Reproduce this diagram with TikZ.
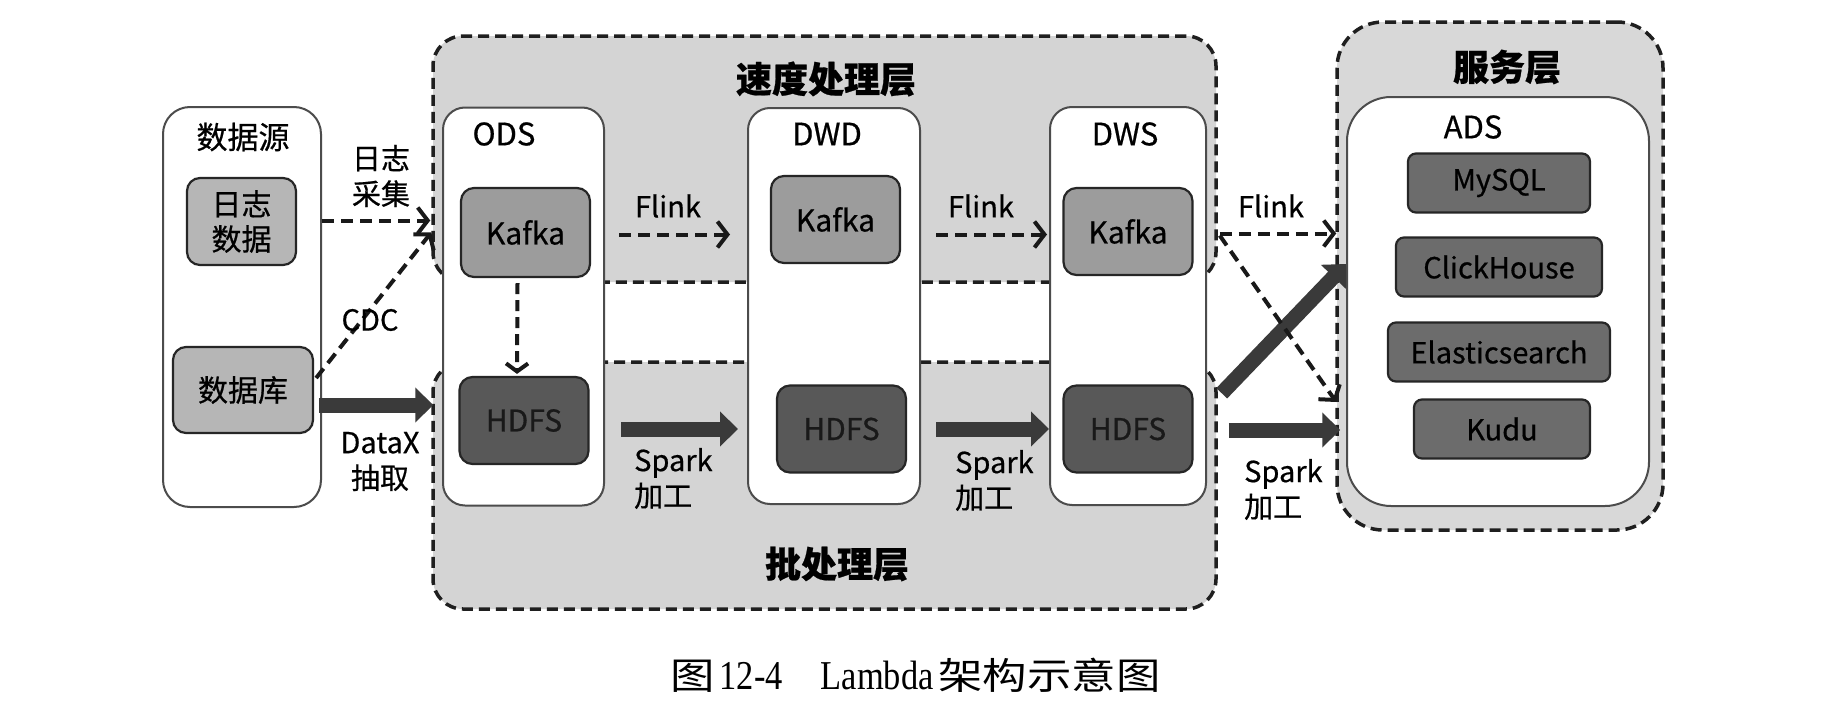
\documentclass[tikz,border=0pt]{standalone}
\usepackage{fontspec}
\setmainfont{Noto Sans CJK SC}[FakeBold=0.6]
\newfontfamily\capcjk{Noto Sans CJK SC}[FakeStretch=1.2]
\newfontfamily\capserif{Liberation Serif}[FakeStretch=0.84]
\usetikzlibrary{arrows.meta,calc}
\definecolor{regfill}{HTML}{D4D4D4}
\definecolor{srvfill}{HTML}{D8D8D8}
\definecolor{srcfill}{HTML}{B6B6B6}
\definecolor{kafkafill}{HTML}{9C9C9C}
\definecolor{hdfsfill}{HTML}{585858}
\definecolor{adsfill}{HTML}{6C6C6C}
\definecolor{arrowdark}{HTML}{3A3A3A}
\begin{document}
\begin{tikzpicture}[x=1pt,y=-1pt,
  region/.style={draw=black!88, line width=3.5pt, dash pattern=on 11pt off 6pt, fill=regfill, rounded corners=30pt, inner sep=0pt},
  colbox/.style={draw=black!70, line width=2pt, fill=white, rounded corners=22pt, inner sep=0pt},
  item/.style={draw=black!85, line width=2.2pt, rounded corners=13pt, inner sep=0pt, align=center, text=black, font=\fontsize{30}{35}\selectfont},
  srcitem/.style={item, fill=srcfill},
  kafkabox/.style={item, fill=kafkafill, minimum width=129pt, minimum height=87pt},
  hdfsbox/.style={item, fill=hdfsfill, minimum width=129pt, minimum height=87pt, text=black!90},
  adsitem/.style={item, fill=adsfill, rounded corners=8pt, minimum height=59pt, font=\fontsize{29}{35}\selectfont},
  coltitle/.style={inner sep=0pt, font=\fontsize{31}{35}\selectfont},
  lyrtitle/.style={inner sep=0pt, font=\fontsize{36}{40}\bfseries\selectfont},
  lbl/.style={inner sep=0pt, align=center, font=\fontsize{29}{35.5}\selectfont},
  lbll/.style={inner sep=0pt, align=left, anchor=west, font=\fontsize{29}{35.5}\selectfont},
  dasharrow/.style={draw=black!90, line width=4pt, dash pattern=on 12pt off 7pt, -{Straight Barb[length=10pt,width=26pt]}},
  thickarrow/.style={draw=arrowdark, line width=15pt, -{Triangle[length=18pt,width=34pt]}}
]
\fill[white] (0,0) rectangle (1842,704);
\useasboundingbox (0,0) rectangle (1842,704);

% layer regions
\node[region, minimum width=783pt, minimum height=246pt] (speed) at (824.5,159) {};
\node[region, minimum width=783pt, minimum height=247pt] (batch) at (824.5,485.5) {};
\node[region, fill=srvfill, rounded corners=46pt, minimum width=326pt, minimum height=508pt] (serv) at (1500,276) {};
\node[lyrtitle] (speedt) at (826,79) {速度处理层};
\node[lyrtitle] (batcht) at (837,564) {批处理层};
\node[lyrtitle] (servt) at (1507,67) {服务层};

% data source
\node[colbox, rounded corners=27pt, minimum width=158pt, minimum height=400pt] (src) at (242,307) {};
\node[coltitle] (srct) at (243,137) {数据源};
\node[srcitem, minimum width=109pt, minimum height=87pt] (logbox) at (241.5,221.5) {日志\\数据};
\node[srcitem, minimum width=140pt, minimum height=86pt] (dbbox) at (243,390) {数据库};

% columns
\node[colbox, minimum width=161pt, minimum height=398pt] (ods) at (523.5,306.5) {};
\node[colbox, minimum width=172pt, minimum height=396pt] (dwd) at (834,306) {};
\node[colbox, minimum width=156pt, minimum height=398pt] (dws) at (1128,306) {};
\node[coltitle] (odst) at (504,134) {ODS};
\node[coltitle] (dwdt) at (827,134) {DWD};
\node[coltitle] (dwst) at (1125,134) {DWS};

\node[kafkabox, minimum height=89pt] (kafka1) at (525.5,232.5) {Kafka};
\node[hdfsbox] (hdfs1) at (524,420.5) {HDFS};
\node[kafkabox] (kafka2) at (835.5,219.5) {Kafka};
\node[hdfsbox] (hdfs2) at (841.5,429) {HDFS};
\node[kafkabox] (kafka3) at (1128,231.5) {Kafka};
\node[hdfsbox] (hdfs3) at (1128,429) {HDFS};

% serving layer
\node[colbox, rounded corners=44pt, minimum width=302pt, minimum height=409pt] (ads) at (1498,301.5) {};
\node[coltitle] (adst) at (1473,127) {ADS};
\node[adsitem, minimum width=182pt] (mysql) at (1499,183) {MySQL};
\node[adsitem, minimum width=206pt] (click) at (1499,267) {ClickHouse};
\node[adsitem, minimum width=222pt] (elastic) at (1499,352) {Elasticsearch};
\node[adsitem, minimum width=176pt] (kudu) at (1502,429) {Kudu};

% source arrows
\draw[dasharrow] ($(src.east|-logbox)+(0,-1)$) -- ($(speed.west|-logbox)+(-1,-1)$);
\draw[dasharrow] ($(dbbox.east)+(2,-12)$) -- (speed.west|-kafka1);
\draw[thickarrow] ($(src.east|-dbbox)+(-3,15)$) -- ($(batch.west|-dbbox)+(2,15)$);
\node[lbl] (lblog) at (381,176) {日志\\采集};
\node[lbl] (lbcdc) at (370,320) {CDC};
\node[lbl] (lbdx) at (380,461.5) {DataX\\抽取};

% ODS
\draw[dasharrow, dash pattern=on 11pt off 6pt, -{Straight Barb[length=8pt,width=22pt]}] ($(kafka1.south)+(-8,5)$) -- ($(hdfs1.north)+(-7,-2)$);
\draw[dasharrow] ($(ods.east|-kafka1)+(14,2)$) -- ($(dwd.west|-kafka1)+(-17,2)$);
\draw[thickarrow] ($(ods.east|-hdfs2)+(16,0)$) -- ($(dwd.west|-hdfs2)+(-9,0)$);
\node[lbl] (lbf1) at (668,206) {Flink};
\node[lbll] (lbs1) at (634,478.5) {Spark\\加工};

% DWD
\draw[dasharrow] ($(dwd.east|-kafka1)+(15,2)$) -- ($(dws.west|-kafka1)+(-2,2)$);
\draw[thickarrow] ($(dwd.east|-hdfs2)+(15,0)$) -- (dws.west|-hdfs2);
\node[lbl] (lbf2) at (981,206) {Flink};
\node[lbll] (lbs2) at (955,480.5) {Spark\\加工};

% DWS -> serving
\draw[thickarrow] ($(batch.north east)+(4,33)$) -- ($(ads.west|-click)+(0,-3)$);
\draw[dasharrow] ($(speed.east|-kafka3)+(2,2)$) -- ($(serv.west|-kafka3)+(1,2)$);
\draw[dasharrow] ($(speed.east|-kafka3)+(2,4)$) -- ($(serv.west)+(1,126)$);
\draw[thickarrow] ($(batch.east|-hdfs3)+(11,1)$) -- ($(serv.west|-hdfs3)+(5,1)$);
\node[lbl] (lbf3) at (1271,206) {Flink};
\node[lbll] (lbs3) at (1244,489.5) {Spark\\加工};

% caption
\node[inner sep=0pt, anchor=west] (cap) at (670,675) {\capcjk\fontsize{37}{42}\selectfont 图\hspace{5pt}{\capserif\fontsize{41}{44}\selectfont 12-4}\hspace{38pt}{\capserif\fontsize{41}{44}\selectfont Lambda}\hspace{5pt}架构示意图};
\end{tikzpicture}
\end{document}
